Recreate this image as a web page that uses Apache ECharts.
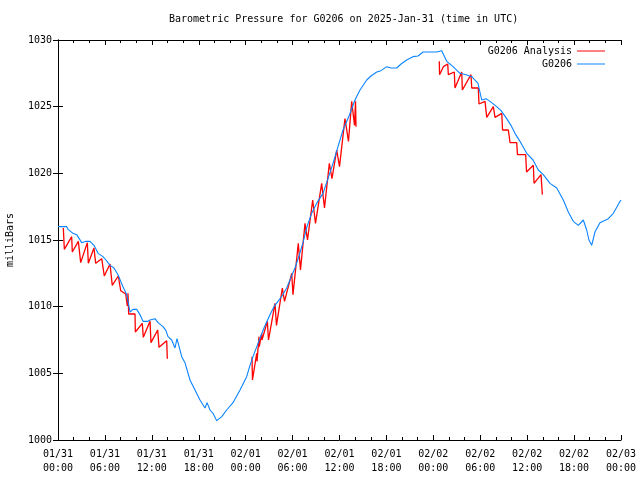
<!DOCTYPE html>
<html><head><meta charset="utf-8">
<script src="https://cdn.jsdelivr.net/npm/echarts@6/dist/echarts.min.js"></script>
<style>html,body{margin:0;padding:0;background:#fff}#c{width:640px;height:480px}</style>
</head><body><div id="c"></div>
<script>
// Hours since 2025-01-31 00:00 UTC
var obsHours = [0,0.51,1.11,1.28,1.92,2.39,3.03,3.58,4.09,4.60,5.12,5.75,6.14,6.65,7.16,7.67,8.31,8.79,9.21,9.59,10.06,10.49,10.87,11.51,11.77,12.41,12.79,13.43,13.81,14.07,14.54,14.96,15.22,15.82,16.24,16.88,17.52,18.16,18.80,19.06,19.44,19.82,20.30,20.94,21.57,22.38,23.28,24.13,24.55,24.94,25.58,26.34,27.11,27.62,28.13,28.65,29.25,29.80,30.31,30.82,31.33,31.84,32.44,33.12,33.89,34.53,35.17,35.81,36.45,37.22,37.98,38.62,39.48,40.03,40.76,41.31,42.04,42.59,43.32,43.87,44.59,45.40,46.04,46.68,47.57,48.43,49.07,49.71,50.52,51.41,52.18,52.91,53.71,54.19,54.74,55.25,56.10,56.66,57.38,57.93,58.44,59.08,59.94,60.75,61.42,62.06,62.92,63.78,64.62,65.26,65.90,66.54,67.18,67.61,67.90,68.25,68.67,69.31,70.38,71.02,71.78,72.0];
var obsValues = [1016.0,1016.0,1016.0,1015.8,1015.5,1015.4,1014.8,1014.9,1014.9,1014.6,1014.0,1013.75,1013.5,1013.1,1012.9,1012.4,1011.5,1010.9,1009.6,1009.8,1009.8,1009.4,1008.9,1008.9,1009.0,1009.1,1008.8,1008.5,1008.2,1007.75,1007.5,1006.9,1007.6,1006.25,1005.8,1004.5,1003.75,1003.0,1002.4,1002.8,1002.25,1002.0,1001.45,1001.75,1002.25,1002.8,1003.75,1004.75,1005.6,1006.25,1007.25,1008.4,1009.4,1010.0,1010.4,1010.8,1011.4,1012.2,1012.9,1013.8,1014.8,1016.0,1017.0,1017.8,1018.5,1019.6,1020.75,1022.0,1023.25,1024.3,1025.5,1026.25,1027.0,1027.3,1027.6,1027.7,1028.0,1027.9,1027.9,1028.2,1028.5,1028.75,1028.8,1029.1,1029.1,1029.1,1029.2,1028.4,1028.0,1027.5,1027.4,1027.25,1026.75,1025.5,1025.6,1025.4,1025.0,1024.7,1024.1,1023.6,1023.0,1022.4,1021.5,1021.0,1020.25,1019.9,1019.25,1018.9,1018.0,1017.1,1016.4,1016.1,1016.5,1015.75,1015.0,1014.6,1015.6,1016.3,1016.6,1017.0,1017.8,1018.0];

// Analysis runs (null = gap between run groups)
var anaHours = [0.68,0.81,1.75,1.83,2.60,2.90,3.75,3.88,4.60,4.82,5.59,5.92,6.65,6.94,7.71,8.02,8.66,8.86,8.95,9.04,9.85,9.89,10.78,10.91,11.77,11.89,12.75,12.92,13.90,13.98,
  20,
  24.81,24.87,25.41,25.45,25.71,25.74,26.05,26.09,26.77,26.92,27.75,27.94,28.69,28.97,29.89,30.05,30.73,31.01,31.59,31.91,32.57,32.93,33.72,34.08,34.70,35.04,35.64,36.0,36.70,37.15,37.56,37.92,38.05,38.11,
  44,
  48.76,48.80,49.28,49.84,49.92,50.68,50.77,51.63,51.71,52.82,52.91,53.75,53.84,54.61,54.83,55.67,55.89,56.75,56.85,57.59,57.81,58.66,58.76,59.81,59.92,60.79,60.88,61.77,61.94];
var anaValues = [1015.9,1014.3,1015.25,1014.1,1014.9,1013.3,1014.8,1013.25,1014.4,1013.25,1013.6,1012.3,1013.2,1011.6,1012.3,1011.2,1010.95,1010.05,1011.0,1009.45,1009.45,1008.1,1008.75,1007.7,1008.9,1007.3,1008.25,1006.95,1007.45,1006.1,
  null,
  1006.25,1004.5,1006.5,1005.9,1007.75,1007.0,1008.0,1007.5,1008.9,1007.5,1010.25,1008.6,1011.4,1010.4,1012.5,1010.9,1014.75,1012.75,1016.25,1015.0,1018.0,1016.25,1019.25,1017.4,1020.75,1019.6,1021.75,1020.5,1024.1,1022.4,1025.4,1023.6,1025.4,1023.5,
  null,
  1028.4,1027.4,1028.0,1028.2,1027.4,1027.6,1026.4,1027.6,1026.25,1027.4,1026.4,1026.4,1025.2,1025.4,1024.2,1025.0,1024.2,1024.5,1023.25,1023.25,1022.3,1022.3,1021.4,1021.4,1020.1,1020.6,1019.25,1019.9,1018.4];

var xTickLabels = ['01/31\n00:00','01/31\n06:00','01/31\n12:00','01/31\n18:00','02/01\n00:00','02/01\n06:00','02/01\n12:00','02/01\n18:00','02/02\n00:00','02/02\n06:00','02/02\n12:00','02/02\n18:00','02/03\n00:00'];
var titleText = 'Barometric Pressure for G0206 on 2025-Jan-31 (time in UTC)';
var yName = 'milliBars';
var seriesNames = ['G0206 Analysis','G0206'];

var FONT = 'DejaVu Sans Mono';
function pairs(xs, ys){ var o=[]; for (var i=0;i<xs.length;i++) o.push([xs[i], ys[i]]); return o; }

var axisLine = {show:true, lineStyle:{color:'#000', width:1}};
var chart = echarts.init(document.getElementById('c'), null, {renderer:'canvas'});
chart.setOption({
  animation:false,
  backgroundColor:'#fff',
  title:{text:titleText, left:164, top:9, textStyle:{fontFamily:FONT, fontSize:10, fontWeight:'normal', color:'#000'}},
  legend:{
    data:seriesNames, orient:'vertical', right:30, top:41, align:'right',
    icon:'path://M0,0H28V1H0Z',
    itemWidth:28, itemHeight:12, itemGap:3,
    textStyle:{fontFamily:FONT, fontSize:10, color:'#000'}
  },
  grid:{left:58, right:19, top:40, bottom:40, containLabel:false, outerBoundsMode:'none'},
  xAxis:[
    {type:'value', min:0, max:72, interval:6, axisLine:axisLine,
     axisTick:{show:true, inside:true, length:5, lineStyle:{color:'#000'}},
     minorTick:{show:true, splitNumber:3, length:3, lineStyle:{color:'#000'}},
     splitLine:{show:false},
     axisLabel:{fontFamily:FONT, fontSize:10, color:'#000', margin:7, lineHeight:14,
       formatter:function(v){ return xTickLabels[Math.round(v/6)]; }}},
    {type:'value', position:'top', min:0, max:72, interval:6, axisLine:axisLine,
     axisTick:{show:true, inside:true, length:5, lineStyle:{color:'#000'}},
     minorTick:{show:true, splitNumber:3, length:3, lineStyle:{color:'#000'}},
     splitLine:{show:false}, axisLabel:{show:false}}
  ],
  yAxis:[
    {type:'value', min:1000, max:1030, interval:5, axisLine:axisLine,
     axisTick:{show:true, inside:true, length:5, lineStyle:{color:'#000'}},
     splitLine:{show:false},
     name:yName, nameLocation:'middle', nameRotate:90, nameGap:43,
     nameTextStyle:{fontFamily:FONT, fontSize:10, color:'#000'},
     axisLabel:{fontFamily:FONT, fontSize:10, color:'#000', margin:6,
       formatter:function(v){ return String(v); }}},
    {type:'value', position:'right', min:1000, max:1030, interval:5, axisLine:axisLine,
     axisTick:{show:true, inside:true, length:5, lineStyle:{color:'#000'}},
     splitLine:{show:false}, axisLabel:{show:false}}
  ],
  series:[
    {name:seriesNames[0], type:'line', data:pairs(anaHours, anaValues), symbol:'none', connectNulls:false,
     lineStyle:{color:'#ff0000', width:1.3}, itemStyle:{color:'#ff0000'}},
    {name:seriesNames[1], type:'line', data:pairs(obsHours, obsValues), symbol:'none',
     lineStyle:{color:'#0a84ff', width:1.1}, itemStyle:{color:'#0a84ff'}}
  ]
});
</script></body></html>
